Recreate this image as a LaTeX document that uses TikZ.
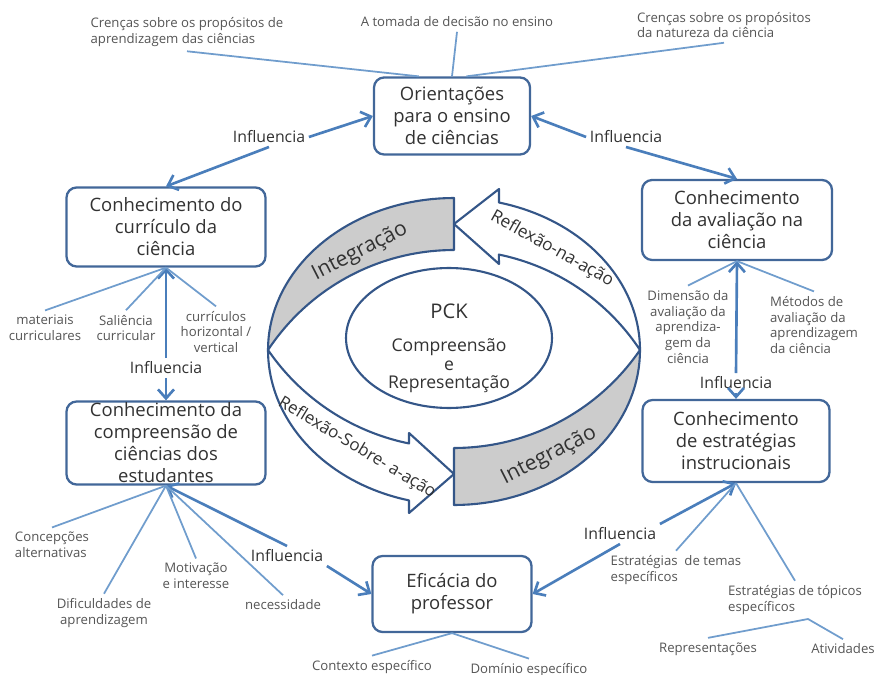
\documentclass[tikz,border=0pt]{standalone}
\usepackage{fontspec}
\setmainfont{Open Sans}
\usetikzlibrary{shapes.geometric, arrows.meta}
\definecolor{boxblue}{RGB}{66,103,153}
\definecolor{lineblue}{RGB}{74,126,187}
\definecolor{branchblue}{RGB}{112,157,205}
\definecolor{bandblue}{RGB}{52,86,136}
\definecolor{bandgray}{RGB}{204,204,204}
\definecolor{txtdark}{RGB}{50,50,50}
\definecolor{txtlab}{RGB}{85,85,85}
\begin{document}
\begin{tikzpicture}
[
x=0.02cm, y=-0.02cm,
>={Straight Barb[length=1.8mm,width=3.2mm]},
box/.style={rectangle, rounded corners=0.2cm, draw=boxblue, line width=1.3pt, fill=white, align=center, text=txtdark, font=\fontsize{10.5}{12.5}\selectfont, inner sep=1mm},
lab/.style={align=center, text=txtlab, font=\fontsize{7.5}{9}\selectfont, inner sep=2.5pt},
infl/.style={text=txtdark, font=\fontsize{9}{11}\selectfont, inner sep=2pt},
infline/.style={draw=lineblue, line width=1.5pt},
branch/.style={draw=branchblue, line width=1pt},
band/.style={draw=bandblue, line width=1.2pt, line join=round},
bandtxt/.style={text=txtdark, font=\fontsize{12}{14}\selectfont, inner sep=0pt},
]
\useasboundingbox (0,0) rectangle (878,675);

% ciclo central
\draw[band, fill=bandgray] plot[domain=180:90, samples=40] ({454+186*cos(\x)},{350-152*sin(\x)})
  -- plot[domain=90:146.5, samples=40] ({454+223*cos(\x)},{473-223*sin(\x)}) -- cycle;
\draw[band, fill=white] plot[domain=0:76, samples=40] ({454+186*cos(\x)},{350-152*sin(\x)})
  -- (499,189) -- (454,224) -- (499,264)
  -- plot[domain=78.4:33.5, samples=40] ({454+223*cos(\x)},{473-223*sin(\x)}) -- cycle;
\draw[band, fill=white] plot[domain=180:256, samples=40] ({454+186*cos(\x)},{350-155*sin(\x)})
  -- (409,513) -- (454,474) -- (409,433)
  -- plot[domain=258.5:214.4, samples=40] ({454+225.5*cos(\x)},{222.5-225.5*sin(\x)}) -- cycle;
\draw[band, fill=bandgray] plot[domain=270:360, samples=40] ({454+186*cos(\x)},{350-155*sin(\x)})
  -- plot[domain=325.6:270, samples=40] ({454+225.5*cos(\x)},{222.5-225.5*sin(\x)}) -- cycle;

\node[bandtxt, rotate=27] (integ1) at (360,252) {Integração};
\node[bandtxt, rotate=27] (integ2) at (549,456) {Integração};
\node[bandtxt, rotate=-29, font=\fontsize{9.8}{12}\selectfont] (reflna) at (552,249) {Reflexão-na-ação};
\node[bandtxt, rotate=-31, font=\fontsize{9.6}{12}\selectfont] (reflsobre) at (357,448) {Reflexão-Sobre- a-ação};

\node[ellipse, draw=bandblue, line width=1.2pt, minimum width=4.12cm, minimum height=2.8cm, inner sep=0pt] (pck) at (449,338) {};
\node[text=txtdark, font=\fontsize{11.5}{13}\selectfont] (pcktitle) at (449,311) {PCK};
\node[text=txtdark, align=center, font=\fontsize{10}{10.5}\selectfont] (pcktext) at (449,366) {Compreensão\\e\\Representação};

% caixas
\node[box, minimum width=3.12cm, minimum height=1.54cm] (orient) at (452,116) {Orientações\\para o ensino\\de ciências};
\node[box, minimum width=3.98cm, minimum height=1.58cm] (curric) at (166,227) {Conhecimento do\\currículo da\\ciência};
\node[box, minimum width=3.8cm, minimum height=1.6cm] (aval) at (737,220) {Conhecimento\\da avaliação na\\ciência};
\node[box, minimum width=3.98cm, minimum height=1.66cm, inner sep=0pt] (compr) at (166,443) {Conhecimento da\\compreensão de\\ciências dos\\estudantes};
\node[box, minimum width=3.74cm, minimum height=1.64cm] (estrat) at (736,441) {Conhecimento\\de estratégias\\instrucionais};
\node[box, minimum width=3.18cm, minimum height=1.52cm] (efic) at (452,594) {Eficácia do\\professor};

% Influencia
\node[infl] (infl1) at (269,137) {Influencia};
\node[infl] (infl2) at (626,137) {Influencia};
\node[infl] (infl3) at (166,368) {Influencia};
\node[infl] (infl4) at (736,383) {Influencia};
\node[infl] (infl5) at (287,556) {Influencia};
\node[infl] (infl6) at (620,534) {Influencia};

\draw [->, infline] (infl1.east) -- (orient.west);
\draw [->, infline] (infl1.south) -- (curric.north);
\draw [->, infline] (infl2.west) -- (orient.east);
\draw [->, infline] (infl2.south) -- (aval.north);
\draw [->, infline] (infl3.north) -- (curric.south);
\draw [->, infline] (infl3.south) -- (compr.north);
\draw [->, infline] (infl4.north) -- (aval.south);
\draw [->, infline] (infl4.south) -- (estrat.north);
\draw [->, infline] (infl5.north) -- (compr.south);
\draw [->, infline] (infl5.south east) -- (efic.west);
\draw [->, infline] (infl6.north east) -- (estrat.south);
\draw [->, infline] (infl6.south) -- (efic.east);

% ramos
\node[lab, align=left] (crenca1) at (187,32) {Crenças sobre os propósitos de\\aprendizagem das ciências};
\node[lab] (tomada) at (457,22) {A tomada de decisão no ensino};
\node[lab, align=left] (crenca2) at (724,25) {Crenças sobre os propósitos\\da natureza da ciência};
\draw [branch] (crenca1.south) -- (orient.130);
\draw [branch] (tomada.south) -- (orient.north);
\draw [branch] (crenca2.south) -- (orient.70);

\node[lab] (mater) at (45,328) {materiais\\curriculares};
\node[lab] (salien) at (126,328) {Saliência\\curricular};
\node[lab] (curvert) at (216,332) {currículos\\horizontal /\\vertical};
\draw [branch] (mater.north) -- (curric.south);
\draw [branch] (salien.north) -- (curric.south);
\draw [branch] (curvert.north) -- (curric.south);

\node[lab] (dimens) at (688,327) {Dimensão da\\avaliação da\\aprendiza-\\gem da\\ciência};
\node[lab, align=left] (metod) at (814,325) {Métodos de\\avaliação da\\aprendizagem\\da ciência};
\draw [branch] (dimens.north) -- (aval.south);
\draw [branch] (metod.north) -- (aval.south);

\node[lab, align=left] (concep) at (52,545) {Concepções\\alternativas};
\node[lab] (dific) at (104,613) {Dificuldades de\\aprendizagem};
\node[lab] (motiv) at (196,576) {Motivação\\e interesse};
\node[lab] (necess) at (283,605) {necessidade};
\draw [branch] (concep.north) -- (compr.south);
\draw [branch] (dific.north) -- (compr.south);
\draw [branch] (motiv.north) -- (compr.south);
\draw [branch] (necess.north) -- (compr.south);

\node[lab] (context) at (372,667) {Contexto específico};
\node[lab] (dominio) at (529,670) {Domínio específico};
\draw [branch] (context.north) -- (efic.south);
\draw [branch] (dominio.north) -- (efic.south);

\node[lab, align=left] (temas) at (676,570) {Estratégias\ \ de temas\\específicos};
\node[lab, align=left] (topicos) at (795,600) {Estratégias de tópicos\\específicos};
\draw [branch] (temas.north) -- (estrat.south);
\draw [branch] (topicos.north) -- (estrat.south);

\node[lab] (repres) at (708,649) {Representações};
\node[lab] (ativid) at (843,649) {Atividades};
\coordinate (topk) at (808,619);
\draw [branch] (repres.north) -- (topk) -- (ativid.north);
\end{tikzpicture}
\end{document}
